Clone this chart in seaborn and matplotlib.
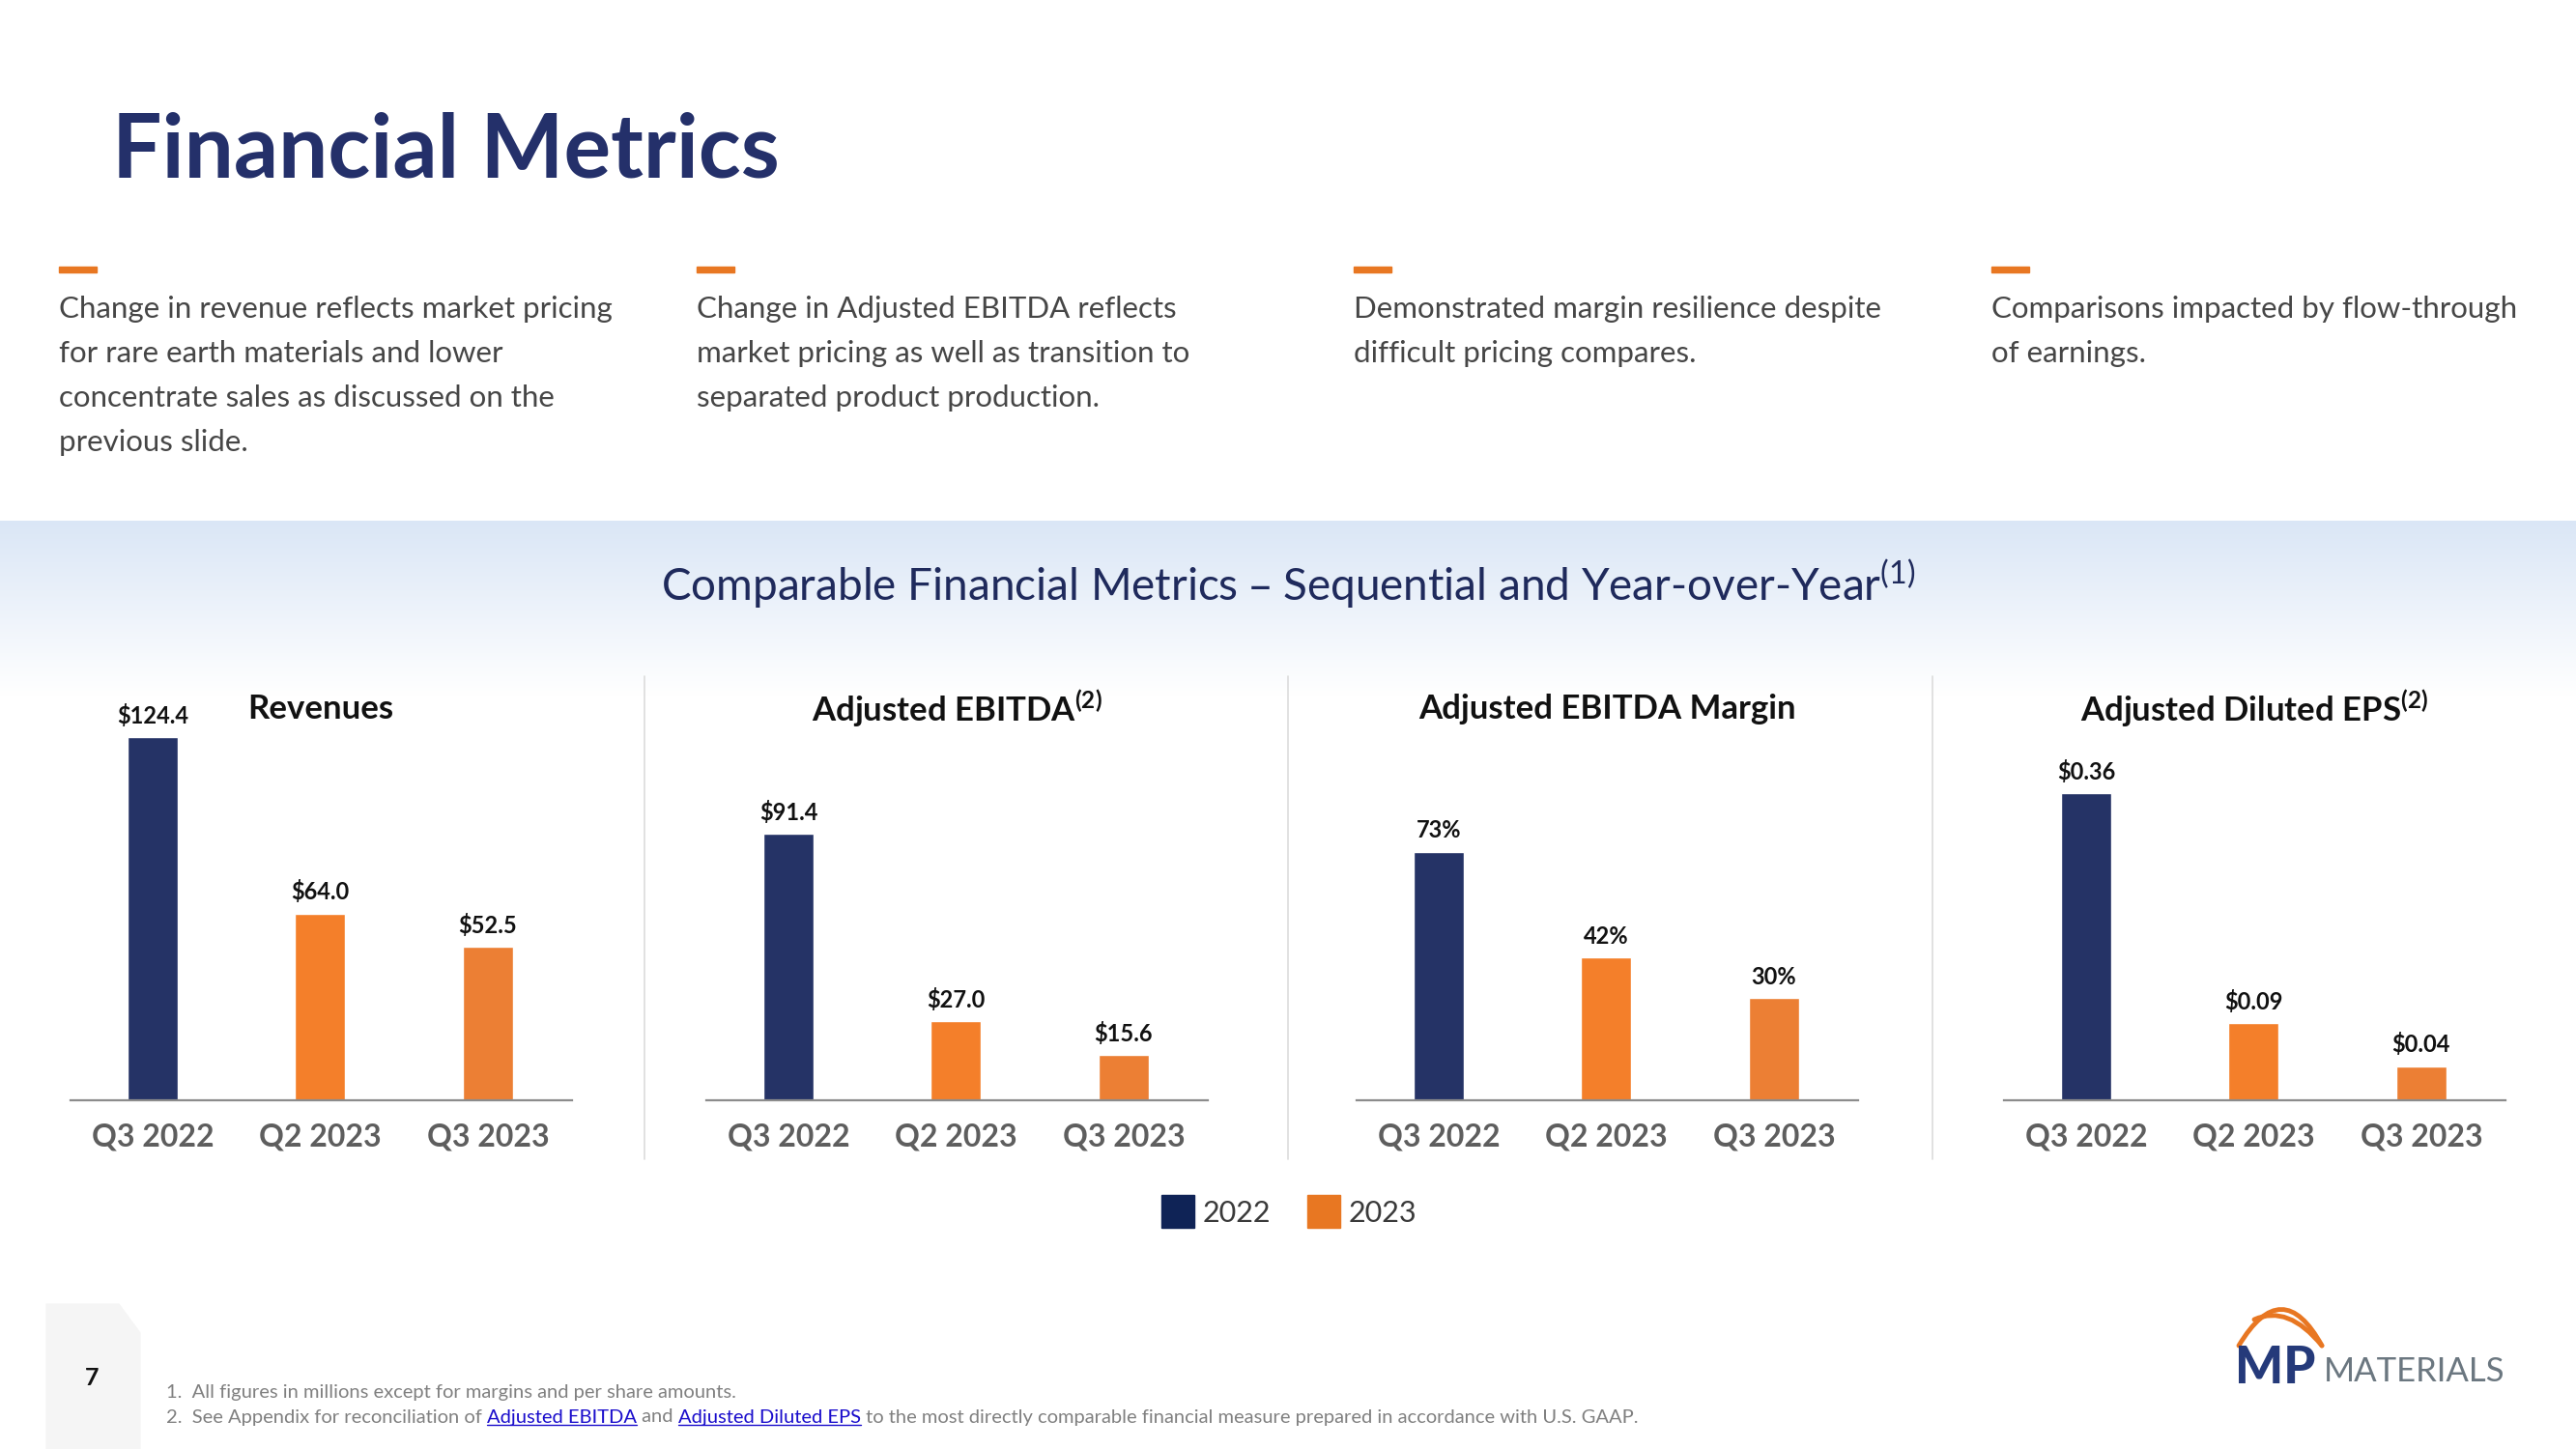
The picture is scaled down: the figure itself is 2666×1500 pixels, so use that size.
import numpy as np
import pandas as pd
import matplotlib
matplotlib.use("Agg")
import matplotlib.pyplot as plt
from matplotlib.patches import Polygon, PathPatch
from matplotlib.path import Path
from matplotlib.lines import Line2D
import seaborn as sns

# data
quarters = ["Q3 2022", "Q2 2023", "Q3 2023"]
revenues = [124.4, 64.0, 52.5]
adj_ebitda = [91.4, 27.0, 15.6]
ebitda_margin = [73, 42, 30]
adj_eps = [0.36, 0.09, 0.04]

revenue_labels = ["$124.4", "$64.0", "$52.5"]
ebitda_labels = ["$91.4", "$27.0", "$15.6"]
margin_labels = ["73%", "42%", "30%"]
eps_labels = ["$0.36", "$0.09", "$0.04"]

panel_titles = ["Revenues", "Adjusted EBITDA$^{(2)}$",
                "Adjusted EBITDA Margin", "Adjusted Diluted EPS$^{(2)}$"]

bullets = [
    ["Change in revenue reflects market pricing", "for rare earth materials and lower",
     "concentrate sales as discussed on the", "previous slide."],
    ["Change in Adjusted EBITDA reflects", "market pricing as well as transition to",
     "separated product production."],
    ["Demonstrated margin resilience despite", "difficult pricing compares."],
    ["Comparisons impacted by flow-through", "of earnings."],
]

legend_years = ["2022", "2023"]

NAVY = "#253366"
BAR_COLORS = {"Q3 2022": "#253366", "Q2 2023": "#F47F2A", "Q3 2023": "#EC7F34"}
ORANGE = "#E87722"

sns.set_theme(style="white")
plt.rcParams["font.family"] = ["Lato", "DejaVu Sans"]
plt.rcParams["mathtext.default"] = "regular"

W, H = 2666, 1500
fig = plt.figure(figsize=(W / 100, H / 100), dpi=100)
fig.patch.set_facecolor("white")


def fx(x):
    return x / W


def fy(y):
    return 1 - y / H


# blue gradient band behind the charts
band = fig.add_axes([0, fy(720), 1, (720 - 539) / H], zorder=-5)
grad = np.linspace(0, 1, 256).reshape(-1, 1)
top_rgb = np.array([0xda, 0xe6, 0xf6]) / 255
img = top_rgb[None, None, :] * (1 - grad[:, :, None]) + np.ones(3)[None, None, :] * grad[:, :, None]
band.imshow(img, aspect="auto", extent=[0, 1, 0, 1], origin="upper")
band.axis("off")

# title
fig.text(fx(116), fy(158), "Financial Metrics", fontsize=65.5, fontweight="bold",
         color="#24306A", va="center", ha="left")

# bullet columns
col_x = [61, 721, 1401, 2061]
for cx, lines in zip(col_x, bullets):
    fig.patches.append(plt.Rectangle((fx(cx), fy(282)), 39 / W, 6 / H,
                                     transform=fig.transFigure, color=ORANGE))
    for i, line in enumerate(lines):
        fig.text(fx(cx), fy(320 + i * 46), line, fontsize=22.5,
                 color="#464646", va="center", ha="left")

# subtitle
fig.text(0.5, fy(605), "Comparable Financial Metrics – Sequential and Year-over-Year$^{(1)}$",
         fontsize=33, color="#1F2A5C", ha="center", va="center")

# separators
for sx in [667, 1333, 2000]:
    fig.add_artist(Line2D([fx(sx), fx(sx)], [fy(700), fy(1200)], color="#dcdcdc", lw=1.2))

# panels
lefts = [73, 731, 1404, 2074]
series = [revenues, adj_ebitda, ebitda_margin, adj_eps]
labels = [revenue_labels, ebitda_labels, margin_labels, eps_labels]
ytops = [140.7, 140.7, 120.8, 0.481]

for left, vals, labs, ytop, title in zip(lefts, series, labels, ytops, panel_titles):
    ax = fig.add_axes([fx(left), fy(1139), 518.6 / W, 425 / H])
    df = pd.DataFrame({"quarter": quarters, "value": vals})
    sns.barplot(data=df, x="quarter", y="value", hue="quarter", palette=BAR_COLORS,
                width=0.3, dodge=False, legend=False, ax=ax, saturation=1)
    ax.set_xlim(-0.49, 2.5)
    ax.set_ylim(0, ytop)
    ax.set_xlabel("")
    ax.set_ylabel("")
    ax.set_yticks([])
    ax.set_facecolor("none")
    for side in ["top", "right", "left"]:
        ax.spines[side].set_visible(False)
    ax.spines["bottom"].set_color("#8c8c8c")
    ax.spines["bottom"].set_linewidth(1.6)
    ax.tick_params(axis="x", length=0, pad=17, labelsize=23, labelcolor="#5e5e5e")
    for t in ax.get_xticklabels():
        t.set_fontweight("bold")
    for i, (v, lab) in enumerate(zip(vals, labs)):
        ax.annotate(lab, (i, v), xytext=(0, 16), textcoords="offset points",
                    ha="center", va="center", fontsize=17, fontweight="bold", color="#111111")
    fig.text(fx(left + 259.3), fy(734), title, fontsize=25, fontweight="bold",
             color="#111111", ha="center", va="center")

# legend
handles = [Line2D([], [], marker="s", ls="", markersize=24, color=c)
           for c in ["#0F2356", ORANGE]]
fig.legend(handles, legend_years, loc="center", bbox_to_anchor=(fx(1335), fy(1256)),
           ncol=2, frameon=False, fontsize=22, handletextpad=0.35, columnspacing=1.3,
           labelcolor="#3a3a3a", handlelength=1.0)

# footer page tab
tab = Polygon([(fx(48), fy(1500)), (fx(48), fy(1350)), (fx(123), fy(1350)),
               (fx(145), fy(1380)), (fx(145), fy(1500))], closed=True,
              transform=fig.transFigure, color="#f5f5f5", zorder=0)
fig.patches.append(tab)
fig.text(fx(95), fy(1427), "7", fontsize=18, fontweight="bold", color="#111111",
         ha="center", va="center")

# footnotes
fig.text(fx(172), fy(1442), "1.  All figures in millions except for margins and per share amounts.",
         fontsize=14.5, color="#808080", va="center", ha="left")
parts = [("2.  See Appendix for reconciliation of ", False), ("Adjusted EBITDA", True),
         (" and ", False), ("Adjusted Diluted EPS", True),
         (" to the most directly comparable financial measure prepared in accordance with U.S. GAAP.", False)]
renderer = fig.canvas.get_renderer()
x = fx(172)
for txt, link in parts:
    t = fig.text(x, fy(1467), txt, fontsize=14.5, va="center", ha="left",
                 color="#1a0dcc" if link else "#808080")
    bb = t.get_window_extent(renderer)
    if link:
        fig.add_artist(Line2D([bb.x0 / W, bb.x1 / W], [(bb.y0 + 1) / H, (bb.y0 + 1) / H],
                              color="#1a0dcc", lw=1))
    x = bb.x1 / W

# logo
outer = Path([(fx(2317), fy(1393)), (fx(2362), fy(1318)), (fx(2403), fy(1393))],
             [Path.MOVETO, Path.CURVE3, Path.CURVE3])
inner = Path([(fx(2333), fy(1366)), (fx(2368), fy(1350)), (fx(2403), fy(1393))],
             [Path.MOVETO, Path.CURVE3, Path.CURVE3])
for p in [outer, inner]:
    fig.patches.append(PathPatch(p, transform=fig.transFigure, fill=False,
                                 edgecolor=ORANGE, lw=3.5, capstyle="round"))
fig.text(fx(2313), fy(1416), "MP", fontsize=38, fontweight="black", color="#253A7A",
         ha="left", va="center")
fig.text(fx(2405), fy(1420), "MATERIALS", fontsize=25, color="#6B7780",
         ha="left", va="center")

fig.savefig("out.png", dpi=100, facecolor="white")
